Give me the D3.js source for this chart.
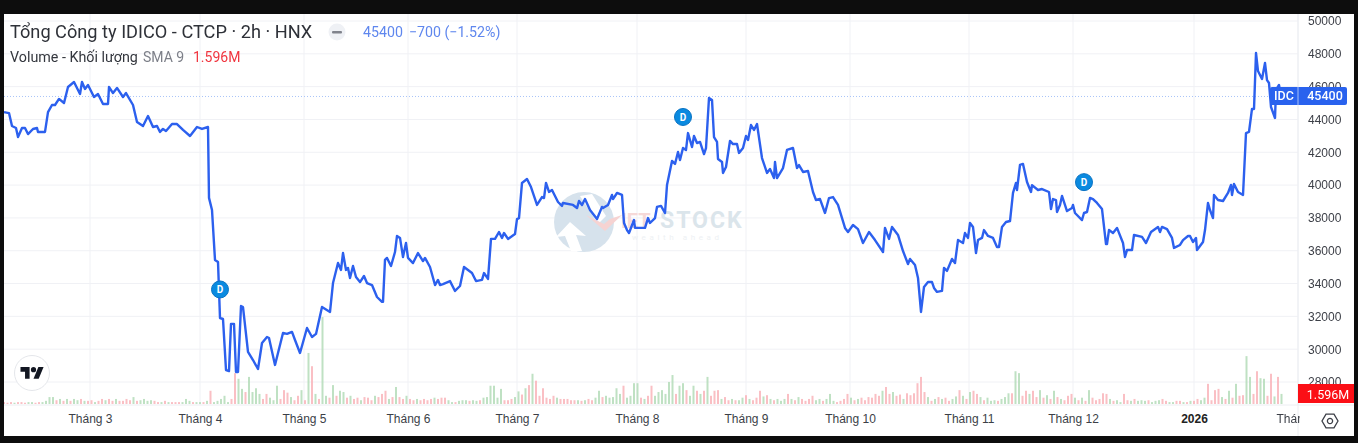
<!DOCTYPE html>
<html lang="vi">
<head>
  <meta charset="UTF-8">
  <title>IDC 2h</title>
  <style>
    html, body { margin: 0; background: #0d0d0d; overflow: hidden; }
    svg { display: block; filter: blur(0.6px); font-family: Roboto, "Liberation Sans", sans-serif; }
    .tick text { fill: #3c3f47; font-size: 12px; }
  </style>
</head>
<body>
<svg width="1358" height="443"></svg>

<script src="https://cdn.jsdelivr.net/npm/d3@7"></script>
<script>
  // tick labels
  var priceTicks = [50000, 48000, 46000, 44000, 42000, 40000, 38000, 36000, 34000, 32000, 30000, 28000];
  var monthLabels = ['Tháng 3', 'Tháng 4', 'Tháng 5', 'Tháng 6', 'Tháng 7', 'Tháng 8', 'Tháng 9', 'Tháng 10', 'Tháng 11', 'Tháng 12', '2026', 'Tháng 2'];
  var monthBars = [43, 98, 150, 202, 256.5, 316.5, 371, 423, 482.5, 534.5, 595, 647];

  // price line: bar number and close price, row by row
  var priceBars = [
    0, 2.5, 4, 6, 7, 9, 10.5, 12, 14.5, 16.5, 17, 20.5,
    22, 24, 25.5, 27.5, 30, 32, 35, 38, 39, 40.5, 42, 45,
    47, 49.5, 52, 52.5, 54.5, 56.5, 59.5, 61, 64.5, 66.5, 69.5, 72,
    74.5, 76.5, 78, 79.5, 81, 84, 86.5, 89.5, 93, 96.5, 99, 102,
    102.5, 104, 105.5, 107, 108, 109.5, 111, 112.5, 113.5, 115, 116, 117,
    118.5, 119.5, 122, 124.5, 127, 129, 131.5, 132.5, 135.5, 139.5, 141.5, 144,
    145.5, 148, 151.5, 154, 156, 159, 163, 164.5, 167, 168.5, 169.5, 171,
    172, 173, 174.5, 176, 178, 180, 181.5, 184, 186.5, 189, 189.5, 190.5,
    191.5, 193.5, 195.5, 196.5, 198, 199.5, 201, 202, 204.5, 207, 209.5, 210.5,
    213, 215.5, 217, 218, 219.5, 223, 225.5, 228, 230, 234, 236, 239,
    240, 242, 243.5, 245.5, 247.5, 249, 250, 252, 255.5, 256.5, 257.5, 259,
    261.5, 263.5, 266.5, 269, 270, 271, 272.5, 274, 277, 279, 279.5, 284.5,
    286.5, 287.5, 289, 290.5, 293, 296.5, 299, 299.5, 302, 304, 304.5, 306.5,
    309, 310, 311.5, 312.5, 315, 315.5, 318, 320.5, 322, 323, 325.5, 326.5,
    328.5, 330.5, 331.5, 334, 335.5, 337, 338, 339.5, 341, 342, 344, 345,
    346.5, 348, 350, 351, 352.5, 354, 355, 356.5, 357, 359, 359.5, 361,
    363, 364.5, 366.5, 367.5, 369.5, 371, 372, 373.5, 375, 376.5, 379, 381.5,
    383, 385, 385.5, 386.5, 389.5, 391.5, 394.5, 396.5, 397.5, 399.5, 402, 404.5,
    406, 408, 410.5, 412.5, 414.5, 417, 420.5, 422, 424.5, 427, 429.5, 432.5,
    435.5, 439.5, 440.5, 442.5, 444, 447, 449.5, 452, 453, 455.5, 457, 458.5,
    460, 462, 464, 465, 466.5, 469, 470, 471.5, 474, 475.5, 477, 479.5,
    480.5, 482, 483, 484.5, 486, 487, 489, 490, 492, 494.5, 496.5, 497.5,
    499, 501, 503, 504.5, 506, 506.5, 508, 509.5, 511.5, 513.5, 514, 517,
    519, 522.5, 523.5, 524.5, 526, 526.5, 528, 529, 531.5, 534, 534.5, 535.5,
    539, 540, 541.5, 543, 544.5, 546.5, 549, 551, 551.5, 552.5, 554.5, 556.5,
    559.5, 560.5, 561.5, 564, 565, 569, 571, 573.5, 577, 578, 579, 581.5,
    584, 585, 588, 589.5, 592, 593, 594.5, 596, 596.5, 599.5, 600.5, 602,
    603, 604.5, 605, 607, 609.5, 612, 613.5, 614, 615, 617, 619.5, 621,
    622.5, 624, 625, 626, 627, 629, 630.5, 631.5, 632.5, 633.5, 635.5, 636, 637.5, 638.5
  ];
  var priceValues = [
    44450, 44390, 43600, 43480, 42930, 43480, 43480, 43110, 43420, 43480, 43240, 43240,
    44450, 44880, 44880, 45250, 45000, 45980, 46280, 45550, 46280, 45860, 46100, 45370,
    45550, 44940, 44940, 45980, 45610, 45920, 45370, 45610, 44880, 43850, 43600, 44210,
    43540, 43600, 43240, 43420, 43300, 43720, 43720, 43360, 42990, 43540, 43420, 43540,
    39220, 38480, 35440, 35310, 31900, 31840, 28730, 28670, 31540, 31540, 28610, 28610,
    32630, 32570, 29830, 29340, 28790, 30380, 30740, 30680, 29040, 30990, 30930, 31050,
    30560, 29770, 31290, 30740, 30930, 32570, 32270, 34030, 35250, 34830, 35860, 34830,
    34950, 34340, 35070, 34400, 34090, 34460, 34030, 33910, 33180, 32880, 32880, 35440,
    35560, 35070, 35920, 36900, 36780, 35620, 36470, 35560, 35250, 35860, 35370, 35560,
    35010, 33910, 34220, 33910, 33970, 34150, 33550, 33850, 35010, 34640, 34150, 34220,
    34640, 34280, 36720, 36720, 37140, 36780, 37080, 36720, 37020, 37930, 37990, 40130,
    40370, 39880, 38790, 39270, 39210, 40130, 39580, 39700, 38970, 38730, 38910, 38790,
    38600, 39030, 38790, 39150, 38480, 37930, 38670, 38600, 38790, 39400, 39150, 39520,
    39400, 37690, 37260, 37080, 37870, 37390, 37390, 37390, 37990, 37690, 37990, 38670,
    38730, 38300, 40000, 41470, 41290, 42020, 41530, 42260, 42140, 43170, 42320, 42990,
    42560, 42630, 41890, 42260, 45310, 45190, 42930, 42630, 41590, 41410, 40740, 41100,
    42690, 42500, 42500, 41960, 42260, 42990, 42750, 43660, 43360, 43720, 41650, 40740,
    40980, 40430, 41410, 40430, 41040, 42140, 42260, 41040, 41220, 40800, 40860, 39580,
    39090, 39150, 38300, 39210, 39270, 38790, 37390, 37140, 37570, 37320, 36470, 37140,
    36650, 35920, 37390, 36720, 37450, 36960, 35980, 35190, 35500, 35130, 34340, 32270,
    33790, 34090, 34090, 33730, 33490, 33550, 34950, 34770, 35500, 35250, 36650, 36470,
    37080, 36780, 37690, 37450, 35860, 36650, 36780, 37260, 36900, 36780, 36230, 36230,
    37450, 37750, 37810, 39520, 40130, 39700, 41230, 41290, 40190, 39580, 40000, 39700,
    39760, 39580, 38540, 39150, 39090, 38360, 38790, 39340, 38420, 38600, 38790, 38300,
    37870, 38300, 38360, 39220, 39150, 38910, 38540, 36410, 36410, 37260, 37080, 37390,
    36470, 35620, 36040, 36040, 36960, 36840, 36470, 37140, 37450, 37140, 37450, 37320,
    36780, 36170, 36350, 36650, 36900, 36900, 36530, 36780, 36040, 36530, 37260, 38910,
    38480, 37990, 39400, 39090, 39030, 39520, 40010, 39400, 40070, 39580, 39400, 43170,
    43240, 44640, 44640, 48050, 46950, 46470, 47440, 46400, 46220, 44760, 44090, 45800, 46100, 45400
  ];

  // volume in millions, ten bars per row, and whether the bar is green or red
  var volumeValues = [
    .3, .2, .3, .2, .3, .3, .2, .3, .3, .2,
    .3, .3, .5, 1.1, 1.1, .6, .8, .5, .8, .5,
    .8, .6, .8, .5, .5, .6, .3, .5, .8, .6,
    .8, .5, .8, .5, .5, .8, .6, 1.1, .5, .6,
    .8, .5, .6, .5, .3, .3, .5, .3, .3, .3,
    .3, .3, .8, .5, .3, .3, .3, .3, .5, 2.1,
    .3, .5, .8, 1.3, .3, .8, 4.9, 4, 2.4, 1.9,
    4.3, 1.9, 2.5, 1.6, .8, 1.6, 1, .6, 2.9, .8,
    2.2, 1.8, 1.1, .6, 1.3, 2.2, .6, 8.1, 6, 1.6,
    .8, 13.8, 1.3, 1, 3, 1.3, 2.1, 1.9, 1, 1.3,
    .8, 1, .6, 1.1, 1, .6, 1.3, 1.1, 1.6, 2.1,
    .8, 1.1, 2.7, 1.1, .8, 1.3, .8, .6, .8, .6,
    .8, .6, .8, 1, .8, 1, 1, .6, .3, .3,
    .5, .6, .6, .5, .6, .5, .6, 1, 1.1, 2.9,
    2.9, 1, 2.4, .6, .6, .8, 1.1, 2, 1.5, 2.5,
    3, 4.8, 3.7, 1.3, 2.5, 1, .8, 1.3, 1, .8,
    .8, .8, .6, .6, .6, .5, .6, .8, .6, 1,
    2.1, 1.1, 1.3, 1, 1.1, 2.5, 1.6, 2.9, 1, 1.3,
    3.3, 3.3, 1, .8, 1.3, 2.9, 1.3, 1.9, 2.2, 1.6,
    3.5, 4.6, 1.6, 2.9, 3.3, 2.2, 1.3, 2.9, 2.1, 1.6,
    2.1, 4.3, 1.3, 2.1, 2.2, .8, 1.1, .6, .8, .6,
    .6, 1, 1.4, .8, .6, 1, 2.1, 1.2, 1.4, .8,
    .6, .8, .5, .8, 1.6, .8, .6, 1.1, .8, .5,
    .8, 1.3, .6, .8, .5, .8, 1.6, .5, .3, .5,
    .8, 1.6, 1, .6, .8, 1, .6, 1.1, 1, 1.6,
    1.3, 2.1, 2.7, 1.6, 1.9, 1.3, 1.5, .8, 1.7, 1.4,
    1.7, 3.3, 4.3, 1.9, 1.1, .5, .8, 1.1, .8, 1,
    .5, .8, 1.2, 2.2, 1.3, .8, 1.9, 2.1, 1.6, 1.1,
    .6, 1, .5, .6, .5, .8, 1.1, 1.7, 1.7, 5.2,
    4.9, 1.3, 2.1, 1.6, 2.1, 1.1, 2.2, 1, 1.4, .8,
    2.1, 1.1, .8, .6, 1.3, 1.6, 1, .6, 1, .5,
    2.2, 1, .6, .8, 1.7, 1.6, .8, .5, .6, .3,
    1.6, .6, .5, .8, .5, .6, .5, .6, .3, .5,
    .6, .8, .5, .3, .3, .5, .5, .3, .3, .5,
    .5, .8, .6, 1, 3.2, .6, 2.2, 2.4, 1.1, .8,
    2.1, 1, 3.2, 1.3, 1.4, 7.6, 4.3, 1.6, 5.2, 4.1,
    4, 1.3, 4.8, 1.2, 4.3, 1.6
  ];
  var volumeSides = (
    'rrrgrrrggr' + 'rggggrgrgr' + 'ggrgrrgrrg' + 'rrgrrrrgrg' + 'gggrrgrgrr' + 'rgggrggrgr' +
    'gggggrrggr' + 'ggggrrgggr' + 'rrgrrgrgrg' + 'rggrgrggrg' + 'rrgrrrgrrr' + 'grgrrgrrgr' +
    'rrrgrrrggr' + 'gggrggrggg' + 'gggrrrggrg' + 'rgrrrrrrgr' + 'rrrrgrgrrg' + 'grgggggrgg' +
    'ggrgrrgggg' + 'ggrggrggrg' + 'rgrrrgrrgr' + 'ggrgrrrgrg' + 'rgggrgrgrr' + 'rrggrgggrr' +
    'rrgrgrrrrr' + 'rgrrgrrgrr' + 'rrrrgrgrgr' + 'rggrgrgrrg' + 'rgggrgggrg' + 'grrgrrgrgr' +
    'grgrrrgrgr' + 'grrrrrgrgg' + 'rrgrgggrgg' + 'grrggrrgrg' + 'rrggrrrrgr' + 'grgrrggrrg' +
    'grrgrg'
  ).split('');
  var volumeStep = 1.75;   // bars between two volume columns

  // dividend markers: bar and price they sit at
  var dividendBars = [108, 339.5, 540];
  var dividendPrices = [33640, 44150, 40180];

  var lastPrice = 45400;
  var lastVolume = 1.596;

  var svg = d3.select('svg');
  var x = d3.scaleLinear().domain([0, 648]).range([4, 1300]);
  var y = d3.scaleLinear().domain([28000, 50000]).range([382, 21]);
  var yVol = d3.scaleLinear().domain([0, 8]).range([404, 353.6]);

  // panel
  svg.append('rect').attr('x', 4).attr('y', 14).attr('width', 1350).attr('height', 422).attr('fill', '#fff');
  var defs = svg.append('defs');
  defs.append('clipPath').attr('id', 'plot').append('rect').attr('x', 4).attr('y', 14).attr('width', 1294).attr('height', 391);
  defs.append('clipPath').attr('id', 'timeAxis').append('rect').attr('x', 4).attr('y', 405).attr('width', 1296).attr('height', 31);

  // grid
  svg.append('g').selectAll('line').data(priceTicks).enter().append('line')
    .attr('x1', 4).attr('x2', 1298).attr('y1', d => y(d)).attr('y2', d => y(d))
    .attr('stroke', '#f0f1f5');
  svg.append('g').selectAll('line').data(monthBars).enter().append('line')
    .attr('x1', d => x(d)).attr('x2', d => x(d)).attr('y1', 14).attr('y2', 405)
    .attr('stroke', '#f0f1f5');
  svg.append('line').attr('x1', 1298).attr('x2', 1298).attr('y1', 14).attr('y2', 436).attr('stroke', '#eceef2');
  svg.append('line').attr('x1', 4).attr('x2', 1354).attr('y1', 405).attr('y2', 405).attr('stroke', '#eceef2');

  // watermark
  var mark = svg.append('g');
  mark.append('circle').attr('cx', 584).attr('cy', 222).attr('r', 30).attr('fill', '#d6e2ec');
  mark.append('path').attr('d', 'M570 222L556 237L565 236L571 251L582 251L576 235L586 236Z').attr('fill', '#fff');
  mark.append('path').attr('d', 'M580 196L592 194L606 216L598 224Z').attr('fill', '#fff');
  mark.append('path').attr('d', 'M586 215L605 231L622 215L610 219L604 224Z').attr('fill', '#f6d3d2');
  mark.append('text').attr('x', 621).attr('y', 228).attr('font-size', 20).attr('font-weight', 700)
    .attr('fill', '#f6d9d8').text('IET');
  mark.append('text').attr('x', 660).attr('y', 228).attr('font-size', 23).attr('font-weight', 700)
    .attr('letter-spacing', 2).attr('fill', '#dbe5eb').text('STOCK');
  mark.append('text').attr('x', 632).attr('y', 240).attr('font-size', 8)
    .attr('letter-spacing', 3.6).attr('fill', '#eef1f4').text('wealth ahead');

  // volume
  svg.append('g').attr('clip-path', 'url(#plot)')
    .selectAll('rect').data(volumeValues).enter().append('rect')
    .attr('x', (d, i) => x(i * volumeStep) - 1)
    .attr('width', 2)
    .attr('y', d => yVol(d))
    .attr('height', d => yVol(0) - yVol(d))
    .attr('fill', (d, i) => volumeSides[i] === 'g' ? '#b4dcb8' : '#f9b4ba')
    .attr('fill-opacity', 0.85);

  // last price dotted line
  svg.append('line').attr('x1', 4).attr('x2', 1270).attr('y1', y(lastPrice)).attr('y2', y(lastPrice))
    .attr('stroke', '#a9c4f8').attr('stroke-dasharray', '1 2');

  // price line
  var line = d3.line().x((d, i) => x(priceBars[i])).y(d => y(d));
  svg.append('path').datum(priceValues)
    .attr('d', line)
    .attr('fill', 'none')
    .attr('stroke', '#2c60ee')
    .attr('stroke-width', 2.4)
    .attr('stroke-linejoin', 'round');

  // dividend markers
  var marks = svg.append('g').selectAll('g').data(dividendBars).enter().append('g')
    .attr('transform', (d, i) => `translate(${x(d)}, ${y(dividendPrices[i])})`);
  marks.append('circle').attr('r', 8.5).attr('fill', '#0a8ae0').attr('stroke', '#0a73c4').attr('stroke-width', 1);
  marks.append('text').attr('text-anchor', 'middle').attr('dy', '0.36em').attr('font-size', 10)
    .attr('font-weight', 700).attr('fill', '#fff').text('D');

  // axes
  var yAxis = d3.axisRight(y).tickValues(priceTicks).tickSize(0).tickPadding(10).tickFormat(d3.format('d'));
  var gy = svg.append('g').attr('transform', 'translate(1298, 0)').call(yAxis);
  gy.select('.domain').remove();

  var xAxis = d3.axisBottom(x).tickValues(monthBars).tickSize(0).tickPadding(9).tickFormat((d, i) => monthLabels[i]);
  var gx = svg.append('g').attr('clip-path', 'url(#timeAxis)')
    .append('g').attr('transform', 'translate(0, 405)').call(xAxis);
  gx.select('.domain').remove();
  gx.selectAll('.tick text').filter((d, i) => monthLabels[i] === '2026').attr('font-weight', 700).style('fill', '#222');

  // header
  var head = svg.append('g');
  head.append('text').attr('x', 10).attr('y', 38).attr('font-size', 18.2).attr('fill', '#2e3138')
    .text('Tổng Công ty IDICO - CTCP · 2h · HNX');
  head.append('circle').attr('cx', 337).attr('cy', 32).attr('r', 8.5).attr('fill', '#eff1f5');
  head.append('rect').attr('x', 332).attr('y', 31).attr('width', 10).attr('height', 2.4).attr('rx', 1).attr('fill', '#80838c');
  head.append('text').attr('x', 363).attr('y', 37).attr('font-size', 14.2).attr('fill', '#5f87ee')
    .text('45400').append('tspan').attr('dx', 6).text('−700 (−1.52%)');
  head.append('text').attr('x', 10).attr('y', 62).attr('font-size', 14.3).attr('fill', '#33363d').text('Volume - Khối lượng');
  head.append('text').attr('x', 143).attr('y', 62).attr('font-size', 14).attr('fill', '#7c7f88').text('SMA 9');
  head.append('text').attr('x', 193).attr('y', 62).attr('font-size', 14).attr('fill', '#f0353f').text('1.596M');

  // price and volume tags
  var tagY = y(lastPrice) - 0.5;
  svg.append('rect').attr('x', 1270).attr('y', tagY - 9).attr('width', 77).attr('height', 18).attr('rx', 2).attr('fill', '#2962ee');
  svg.append('line').attr('x1', 1298).attr('x2', 1298).attr('y1', tagY - 9).attr('y2', tagY + 9).attr('stroke', '#a8c0f8');
  svg.append('text').attr('x', 1284).attr('y', tagY).attr('dy', '0.36em').attr('text-anchor', 'middle')
    .attr('font-size', 12.5).attr('font-weight', 500).attr('fill', '#fff').text('IDC');
  svg.append('text').attr('x', 1325).attr('y', tagY).attr('dy', '0.36em').attr('text-anchor', 'middle')
    .attr('font-size', 12.5).attr('font-weight', 500).attr('fill', '#fff').text(lastPrice);
  svg.append('rect').attr('x', 1298).attr('y', 384).attr('width', 56).attr('height', 19).attr('fill', '#fb0f16');
  svg.append('text').attr('x', 1328).attr('y', 394).attr('dy', '0.36em').attr('text-anchor', 'middle')
    .attr('font-size', 12.5).attr('fill', '#fff').text(lastVolume + 'M');

  // tradingview badge
  svg.append('circle').attr('cx', 32).attr('cy', 373).attr('r', 17.5).attr('fill', '#fff').attr('stroke', '#e4e6ea');
  var logo = svg.append('g').attr('transform', 'translate(20.5, 364.5) scale(0.65)');
  logo.append('path').attr('d', 'M14 22H7V11H0V4h14v18z').attr('fill', '#131722');
  logo.append('path').attr('d', 'M28 22h-8l7.5-18h8L28 22z').attr('fill', '#131722');
  logo.append('circle').attr('cx', 20).attr('cy', 8).attr('r', 4).attr('fill', '#131722');

  // settings icon
  var gear = svg.append('g').attr('transform', 'translate(1330, 421)');
  gear.append('path').attr('d', d3.line()(d3.range(6).map(i => [8 * Math.cos(i * Math.PI / 3), 8 * Math.sin(i * Math.PI / 3)])) + 'Z')
    .attr('fill', 'none').attr('stroke', '#3c3f47').attr('stroke-width', 1.3);
  gear.append('circle').attr('r', 2.6).attr('fill', 'none').attr('stroke', '#3c3f47').attr('stroke-width', 1.3);
</script>
</body>
</html>
